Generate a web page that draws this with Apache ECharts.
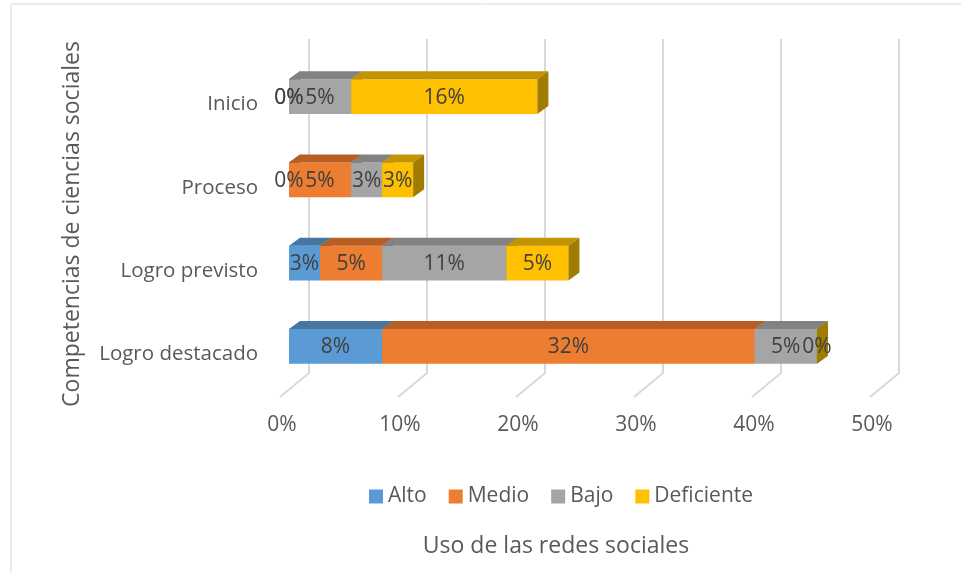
<!DOCTYPE html>
<html>
<head>
<meta charset="utf-8">
<script src="https://cdn.jsdelivr.net/npm/echarts@6/dist/echarts.min.js"></script>
<style>
  html, body { margin: 0; padding: 0; background: #fff; }
  #chart { width: 961px; height: 573px; }
</style>
</head>
<body>
<div id="chart"></div>
<script>
// categorias (de abajo hacia arriba)
const categories = ['Logro destacado', 'Logro previsto', 'Proceso', 'Inicio'];
// porcentajes por nivel de uso de redes sociales
const alto = [7.89, 2.63, 0, 0];
const medio = [31.58, 5.26, 5.26, 0];
const bajo = [5.26, 10.53, 2.63, 5.26];
const deficiente = [0, 5.26, 2.63, 15.79];
const xTicks = [0, 10, 20, 30, 40, 50];

const seriesNames = ['Alto', 'Medio', 'Bajo', 'Deficiente'];
const seriesValues = [alto, medio, bajo, deficiente];
// cara frontal, cara superior, cara lateral
const faceColors = [
  ['#5B9BD5', '#4876A0', '#3F6A91'],
  ['#ED7D31', '#B85E25', '#A35420'],
  ['#A5A5A5', '#828282', '#747474'],
  ['#FFC000', '#C49300', '#A07C00']
];
const font = "'Open Sans', sans-serif";
const DX = 11, DY = 8;

// inicio/fin acumulado de cada segmento
const cum = categories.map(() => 0);
const stacked = seriesValues.map(vals => vals.map((v, i) => {
  const start = cum[i];
  cum[i] += v;
  return [start, cum[i], i, v];
}));

function makeRender(k) {
  const c = faceColors[k];
  return function (params, api) {
    const start = api.value(0), end = api.value(1), cat = api.value(2), v = api.value(3);
    const p0 = api.coord([start, cat]);
    const p1 = api.coord([end, cat]);
    const h = api.size([0, 1])[1] * 0.42;
    const x0 = p0[0], x1 = p1[0];
    const yT = p0[1] - h / 2, yB = p0[1] + h / 2;
    return {
      type: 'group',
      children: [
        { type: 'rect', shape: { x: x0, y: yT, width: x1 - x0, height: h }, style: { fill: c[0] } },
        { type: 'polygon', shape: { points: [[x0, yT], [x1, yT], [x1 + DX, yT - DY], [x0 + DX, yT - DY]] }, style: { fill: c[1] } },
        { type: 'polygon', shape: { points: [[x1, yT], [x1 + DX, yT - DY], [x1 + DX, yB - DY], [x1, yB]] }, style: { fill: c[2] } },
        {
          type: 'text', z2: 100,
          style: {
            text: Math.round(v) + '%', x: (x0 + x1) / 2, y: p0[1] + 1,
            align: 'center', verticalAlign: 'middle',
            fill: '#404040', font: '21px ' + font
          }
        }
      ]
    };
  };
}

// lineas de division en 3D (pared del fondo y piso)
function renderGrid(params, api) {
  const p = api.coord([api.value(0), 0]);
  const cs = params.coordSys;
  const gb = cs.y + cs.height;
  const x = p[0];
  return {
    type: 'polyline',
    shape: { points: [[x + 20, cs.y - 16], [x + 20, gb - 15], [x - 9, gb + 9]] },
    style: { stroke: '#D9D9D9', lineWidth: 2, fill: null }
  };
}

const chart = echarts.init(document.getElementById('chart'));

const series = seriesNames.map((name, k) => ({
  name: name,
  type: 'custom',
  z: 2,
  itemStyle: { color: faceColors[k][0] },
  renderItem: makeRender(k),
  encode: { x: [0, 1], y: 2 },
  data: stacked[k]
}));
series.push({
  name: 'grid',
  type: 'custom',
  z: 1,
  silent: true,
  renderItem: renderGrid,
  encode: { x: 0 },
  data: xTicks.map(t => [t])
});

chart.setOption({
  animation: false,
  grid: { left: 289, top: 55, width: 590, height: 333 },
  xAxis: {
    type: 'value',
    min: 0, max: 50, interval: 10,
    axisLine: { show: false },
    axisTick: { show: false },
    splitLine: { show: false },
    axisLabel: {
      formatter: '{value}%',
      color: '#595959', fontSize: 21, fontFamily: font,
      margin: 27, padding: [0, 14, 0, 0]
    }
  },
  yAxis: {
    type: 'category',
    data: categories,
    axisLine: { show: false },
    axisTick: { show: false },
    axisLabel: {
      color: '#595959', fontSize: 20.5, fontFamily: font,
      margin: 31, verticalAlign: 'top', lineHeight: 16
    }
  },
  legend: {
    data: seriesNames,
    left: 364, top: 481,
    icon: 'rect', itemWidth: 14, itemHeight: 14, itemGap: 22,
    textStyle: { color: '#595959', fontSize: 21, fontFamily: font }
  },
  graphic: [
    {
      type: 'rect', silent: true,
      shape: { x: 11, y: 4, width: 1000, height: 700 },
      style: { fill: null, stroke: '#D9D9D9', lineWidth: 1 }
    },
    {
      type: 'text', x: 556, y: 546,
      style: { text: 'Uso de las redes sociales', align: 'center', verticalAlign: 'middle', fill: '#595959', font: '23px ' + font }
    },
    {
      type: 'text', x: 72, y: 224, rotation: Math.PI / 2,
      style: { text: 'Competencias de ciencias sociales', align: 'center', verticalAlign: 'middle', fill: '#595959', font: '23px ' + font }
    }
  ],
  series: series
});
</script>
</body>
</html>
